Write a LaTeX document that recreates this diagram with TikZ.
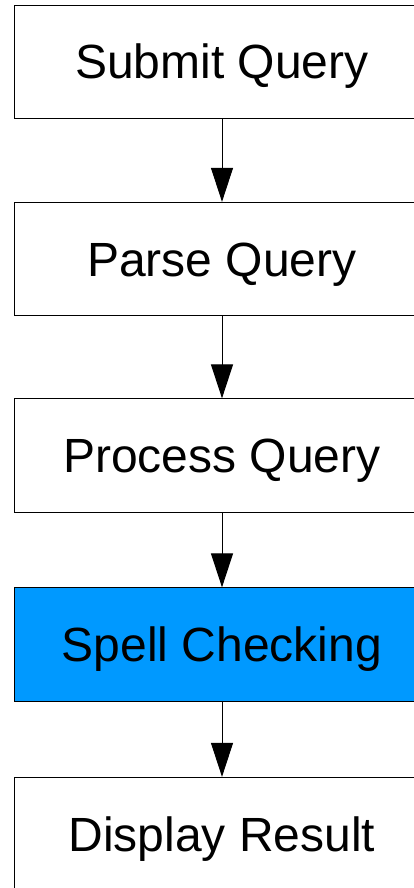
\documentclass[tikz,border=0pt]{standalone}
\usepackage{fontspec}
\setmainfont{Liberation Sans}
\usetikzlibrary{arrows.meta}
\definecolor{spellblue}{RGB}{0,153,255}
\tikzset{
  stepbox/.style={draw=black, line width=0.8pt, fill=white, minimum width=416pt, minimum height=113.5pt,
    inner sep=0pt, text height=34pt, text depth=0pt, font=\fontsize{48pt}{56pt}\selectfont},
  flow/.style={draw=black, line width=1pt, -{Triangle[length=34pt,width=22pt]}}
}
\begin{document}
\begin{tikzpicture}[x=1pt,y=1pt]
\useasboundingbox (0,0) rectangle (414,-888);
\clip (0,0) rectangle (414,-888);
\fill[white] (0,0) rectangle (414,-888);
\node[stepbox] (submit) at (222,-62) {Submit Query};
\node[stepbox] (parse) at (222,-259) {Parse Query};
\node[stepbox] (process) at (222,-455.5) {Process Query};
\node[stepbox, fill=spellblue] (spell) at (222,-644.5) {Spell Checking};
\node[stepbox] (display) at (222,-834) {Display Result};
\draw[flow] (submit.south) -- (parse.north);
\draw[flow] (parse.south) -- (process.north);
\draw[flow] (process.south) -- (spell.north);
\draw[flow] (spell.south) -- (display.north);
\end{tikzpicture}
\end{document}
